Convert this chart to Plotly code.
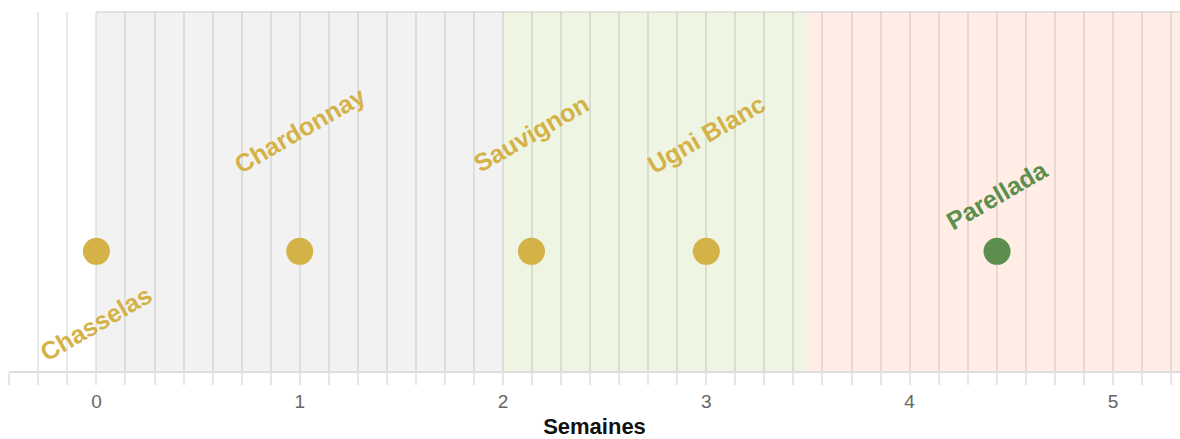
import plotly.graph_objects as go

# Data
cepages = ["Chasselas", "Chardonnay", "Sauvignon", "Ugni Blanc", "Parellada"]
semaines = [0, 1, 2.14, 3, 4.43]
niveau = [1, 1, 1, 1, 1]
label_y = [0.40, 2.01, 1.99, 1.98, 1.47]
couleurs = ["#D4B248", "#D4B248", "#D4B248", "#D4B248", "#5C8F4E"]

band_start = [0, 2, 3.5]
band_end = [2, 3.5, 5.33]
band_colors = ["#F2F2F2", "#EEF5E3", "#FFEDE6"]

x_min, x_max = -0.43, 5.33

tickvals = [k / 7 for k in range(-3, 38)]
ticktext = [str(round(v)) if abs(v - round(v)) < 1e-9 else "" for v in tickvals]

fig = go.Figure()

fig.add_trace(go.Scatter(
    x=semaines, y=niveau, mode="markers",
    marker=dict(size=27, color=couleurs, line=dict(width=0)),
    hoverinfo="skip", showlegend=False,
))

shapes = []
for s, e, c in zip(band_start, band_end, band_colors):
    shapes.append(dict(type="rect", xref="x", yref="paper", x0=s, x1=e, y0=0, y1=1,
                       fillcolor=c, line=dict(width=0), layer="below"))
shapes.append(dict(type="line", xref="x", yref="paper", x0=band_start[0], x1=band_end[-1],
                   y0=1, y1=1, line=dict(color="#DADADA", width=1.5), layer="below"))

annotations = []
for name, x, ly, c in zip(cepages, semaines, label_y, couleurs):
    annotations.append(dict(
        x=x, y=ly, xref="x", yref="y", text="<b>" + name + "</b>", showarrow=False,
        textangle=-30, font=dict(family="Liberation Sans, Arial", size=25, color=c),
        xanchor="center", yanchor="middle",
    ))

fig.update_layout(
    width=1180, height=439,
    margin=dict(l=9, r=0, t=12, b=68),
    plot_bgcolor="white", paper_bgcolor="white",
    shapes=shapes, annotations=annotations,
    xaxis=dict(
        range=[x_min, x_max], tickvals=tickvals, ticktext=ticktext,
        showgrid=True, gridcolor="rgba(0,0,0,0.085)", gridwidth=1.5,
        zeroline=False, showline=True, linecolor="#DDDDDD", linewidth=1.5,
        ticks="outside", ticklen=12, tickcolor="#E6E6E6", tickwidth=1.5,
        tickfont=dict(family="Liberation Sans, Arial", size=19, color="#666666"),
        title=dict(text="<b>Semaines</b>", font=dict(family="Liberation Sans, Arial", size=22, color="#111111"), standoff=9),
        automargin=False,
        fixedrange=True,
    ),
    yaxis=dict(range=[0, 3], showgrid=False, zeroline=False, showticklabels=False,
               showline=False, fixedrange=True, automargin=False),
)

fig.write_html("out.html", config={"displayModeBar": False},
               post_script="document.body.style.margin='0';document.body.style.overflow='hidden';")
